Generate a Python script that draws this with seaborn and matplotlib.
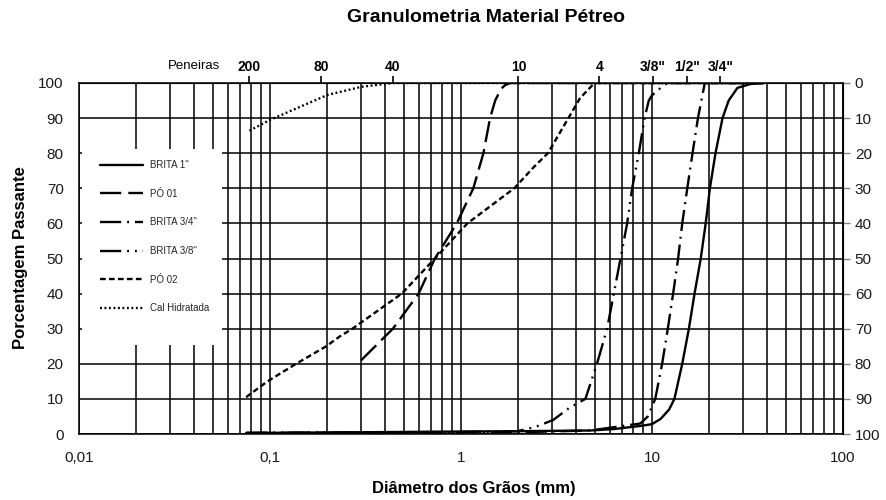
import numpy as np
import pandas as pd
import matplotlib
matplotlib.use("Agg")
import matplotlib.pyplot as plt
from matplotlib.patches import Rectangle
from matplotlib.ticker import FixedLocator, NullLocator, LogLocator
import seaborn as sns

# Grain-size distribution curves: grain diameter (mm) vs. percentage passing
series_names = ["BRITA 1\"", "PÓ 01", "BRITA 3/4''", "BRITA 3/8''", "PÓ 02", "Cal Hidratada"]

brita1_d = [0.075, 0.3, 1.0, 2.0, 4.75, 6.3, 8.7, 10.0, 11.1, 12.3, 13.1, 14.4, 15.6, 16.7,
            18.0, 19.1, 20.1, 21.5, 23.4, 25.2, 28.0, 32.7, 38.5]
brita1_p = [0.3, 0.5, 0.7, 0.8, 1.0, 1.4, 2.3, 2.8, 4.3, 7.0, 10.0, 20.0, 30.0, 40.0,
            50.0, 60.0, 70.0, 80.0, 90.0, 95.0, 98.6, 99.7, 100.0]

po01_d = [0.30, 0.44, 0.60, 0.73, 0.95, 1.16, 1.31, 1.42, 1.51, 1.62, 1.70, 1.81, 38.5]
po01_p = [21.0, 30.0, 40.0, 50.0, 60.0, 70.0, 80.0, 90.0, 95.0, 98.3, 99.4, 100.0, 100.0]

brita34_d = [0.075, 2.0, 4.75, 8.7, 9.5, 10.4, 11.3, 12.1, 12.9, 13.7, 14.4, 15.3, 16.3,
             17.4, 18.9, 38.5]
brita34_p = [0.3, 0.5, 1.0, 3.0, 5.0, 10.0, 20.0, 30.0, 40.0, 50.0, 60.0, 70.0, 80.0,
             90.0, 100.0, 100.0]

brita38_d = [0.075, 1.0, 1.97, 2.45, 3.04, 3.7, 4.48, 5.15, 5.82, 6.31, 6.84, 7.41, 7.87,
             8.53, 9.14, 9.62, 10.0, 11.1, 12.0, 38.5]
brita38_p = [0.3, 0.6, 0.8, 2.0, 4.0, 7.5, 10.0, 20.0, 30.0, 40.0, 50.0, 60.0, 70.0,
             80.0, 90.0, 95.0, 96.5, 98.6, 100.0, 100.0]

po02_d = [0.075, 0.097, 0.137, 0.197, 0.232, 0.27, 0.49, 0.73, 1.08, 1.9, 2.39, 2.85,
          3.65, 4.2, 5.0, 38.5]
po02_p = [10.5, 15.0, 20.0, 25.0, 27.8, 30.0, 40.0, 50.0, 60.0, 70.0, 75.9, 80.0,
          90.0, 95.7, 100.0, 100.0]

cal_d = [0.078, 0.1, 0.2, 0.3, 0.44, 38.5]
cal_p = [86.4, 89.5, 96.6, 98.9, 100.0, 100.0]

# Sieve openings (mm) marked on the top axis
sieve_pos = [0.078, 0.185, 0.44, 2.0, 5.3, 10.1, 15.2, 22.8]
sieve_labels = ["200", "80", "40", "10", "4", "3/8\"", "1/2\"", "3/4\""]

x_ticks = [0.01, 0.1, 1, 10, 100]
x_tick_labels = ["0,01", "0,1", "1", "10", "100"]
y_ticks = list(range(0, 101, 10))

frames = []
for name, d, p in zip(series_names,
                      [brita1_d, po01_d, brita34_d, brita38_d, po02_d, cal_d],
                      [brita1_p, po01_p, brita34_p, brita38_p, po02_p, cal_p]):
    frames.append(pd.DataFrame({"d": d, "pct": p, "serie": name}))
df = pd.concat(frames, ignore_index=True)

dash_map = {
    "BRITA 1\"": "",
    "PÓ 01": (9, 3),
    "BRITA 3/4''": (9, 2.5, 0.8, 2.5),
    "BRITA 3/8''": (9, 2.5, 0.8, 2.5, 0.8, 2.5),
    "PÓ 02": (2.4, 1.4),
    "Cal Hidratada": (0.8, 1.1),
}

sns.set_style("white")
plt.rcParams["font.family"] = ["Liberation Sans", "DejaVu Sans"]

W, H = 887, 500
fig = plt.figure(figsize=(W / 100, H / 100), dpi=100)
x0, x1, y0, y1 = 79, 843, 83, 434
ax = fig.add_axes([x0 / W, 1 - y1 / H, (x1 - x0) / W, (y1 - y0) / H])

sns.lineplot(data=df, x="d", y="pct", style="serie", style_order=series_names,
             dashes=dash_map, color="black", linewidth=1.7, estimator=None,
             sort=False, ax=ax, legend=True, zorder=3)

ax.set_xscale("log")
ax.set_xlim(0.01, 100)
ax.set_ylim(0, 100)
ax.set_xlabel("")
ax.set_ylabel("")

ax.xaxis.set_major_locator(FixedLocator(x_ticks))
ax.set_xticklabels(x_tick_labels)
ax.xaxis.set_minor_locator(LogLocator(base=10, subs=np.arange(2, 10)))
ax.yaxis.set_major_locator(FixedLocator(y_ticks))

ax.set_axisbelow(True)
ax.grid(True, which="both", axis="x", color="black", linewidth=1.1)
ax.grid(True, which="major", axis="y", color="black", linewidth=1.1)

for s in ax.spines.values():
    s.set_visible(True)
    s.set_color("black")
    s.set_linewidth(1.1)

ax.tick_params(axis="x", which="both", length=0, pad=12, labelsize=11, colors="#1a1a1a")
ax.tick_params(axis="y", which="major", length=4.5, width=1, direction="out",
               pad=6.5, labelsize=11, colors="#1a1a1a")
ax.tick_params(axis="y", which="major", color="black")

# Right axis: percentage retained
inv = lambda v: 100 - v
ry = ax.secondary_yaxis("right", functions=(inv, inv))
ry.set_yticks(y_ticks)
ry.tick_params(length=5, width=1, color="#808080", pad=3.5, labelsize=11, labelcolor="#1a1a1a")
ry.spines["right"].set_color("black")

# Top axis: sieve numbers
tx = ax.secondary_xaxis("top")
tx.set_xticks(sieve_pos)
tx.set_xticklabels(sieve_labels)
tx.xaxis.set_minor_locator(NullLocator())
tx.tick_params(length=5, width=1.2, direction="out", pad=1.5, labelsize=10, colors="black")
for lab in tx.get_xticklabels():
    lab.set_fontweight("bold")
tx.spines["top"].set_color("black")

# Legend on a white panel
handles, labels = ax.get_legend_handles_labels()
ax.get_legend().remove()
for h in handles:
    h.set_color("black")
    h.set_linewidth(1.7)
ax.add_patch(Rectangle(((82 - x0) / (x1 - x0), (y1 - 345) / (y1 - y0)),
                       (222 - 82) / (x1 - x0), (345 - 149) / (y1 - y0),
                       transform=ax.transAxes, facecolor="white", edgecolor="none",
                       zorder=1))
leg = ax.legend(handles, labels, loc="upper left",
                bbox_to_anchor=((85.4 - x0) / (x1 - x0), (y1 - 145.4) / (y1 - y0)),
                borderaxespad=0, borderpad=1.5, frameon=False, fontsize=7,
                handlelength=4.4, handletextpad=0.7, labelspacing=1.92)
leg.set_zorder(5)

fig.text(486 / W, 1 - 18 / H, "Granulometria Material Pétreo", ha="center", va="center",
         fontsize=14, fontweight="bold", color="black")
fig.text(474 / W, 1 - 488 / H, "Diâmetro dos Grãos (mm)", ha="center", va="center",
         fontsize=12, fontweight="bold", color="black")
fig.text(21 / W, 1 - 258 / H, "Porcentagem Passante", ha="center", va="center",
         rotation=90, fontsize=12, fontweight="bold", color="black")
fig.text(194 / W, 1 - 66 / H, "Peneiras", ha="center", va="center", fontsize=9.5,
         color="black")

fig.savefig("out.png", dpi=100)
